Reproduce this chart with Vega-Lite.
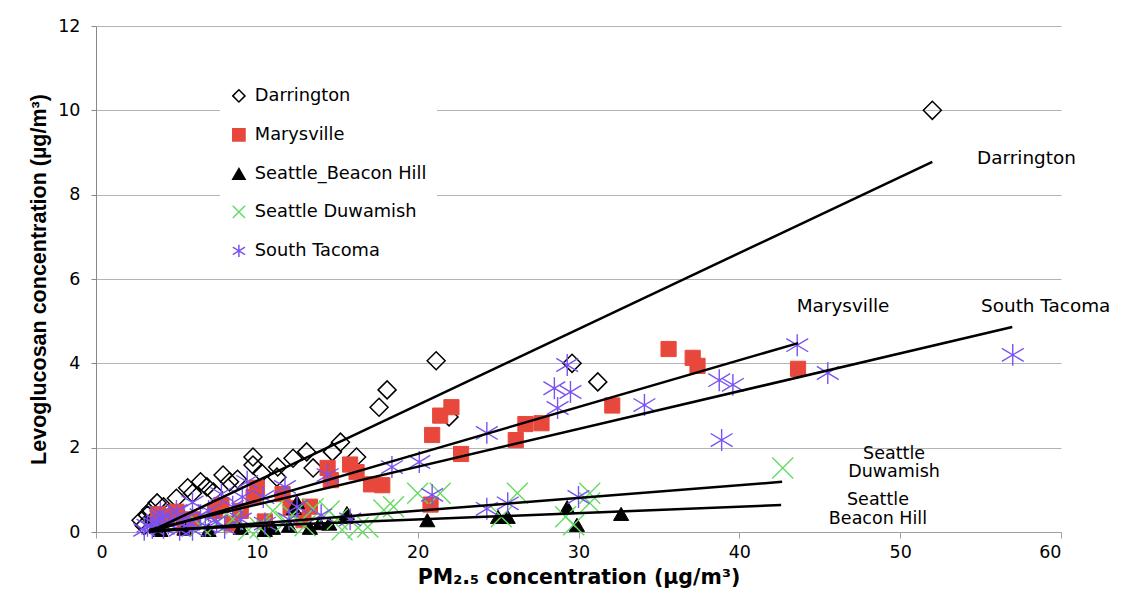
{
  "$schema": "https://vega.github.io/schema/vega-lite/v6.json",
  "width": 965,
  "height": 506,
  "autosize": {"type": "none"},
  "padding": {"left": 96, "top": 26, "right": 74, "bottom": 67},
  "background": "white",
  "config": {
    "view": {"stroke": null},
    "font": "DejaVu Sans"
  },
  "datasets": {
    "pts": [
      {"series": "Darrington", "pm": 52.0, "lev": 10.0},
      {"series": "Darrington", "pm": 21.15, "lev": 4.06},
      {"series": "Darrington", "pm": 29.6, "lev": 4.0},
      {"series": "Darrington", "pm": 31.2, "lev": 3.56},
      {"series": "Darrington", "pm": 18.1, "lev": 3.37},
      {"series": "Darrington", "pm": 17.6, "lev": 2.96},
      {"series": "Darrington", "pm": 21.95, "lev": 2.73},
      {"series": "Darrington", "pm": 15.2, "lev": 2.13},
      {"series": "Darrington", "pm": 14.7, "lev": 1.9},
      {"series": "Darrington", "pm": 16.2, "lev": 1.78},
      {"series": "Darrington", "pm": 13.1, "lev": 1.9},
      {"series": "Darrington", "pm": 12.25, "lev": 1.75},
      {"series": "Darrington", "pm": 11.3, "lev": 1.54},
      {"series": "Darrington", "pm": 9.76, "lev": 1.78},
      {"series": "Darrington", "pm": 9.76, "lev": 1.59},
      {"series": "Darrington", "pm": 7.9, "lev": 1.35},
      {"series": "Darrington", "pm": 8.3, "lev": 1.19},
      {"series": "Darrington", "pm": 6.5, "lev": 1.19},
      {"series": "Darrington", "pm": 6.0, "lev": 0.92},
      {"series": "Darrington", "pm": 5.7, "lev": 1.05},
      {"series": "Darrington", "pm": 3.8, "lev": 0.69},
      {"series": "Darrington", "pm": 3.4, "lev": 0.52},
      {"series": "Darrington", "pm": 2.8, "lev": 0.28},
      {"series": "Darrington", "pm": 6.9, "lev": 1.07},
      {"series": "Darrington", "pm": 11.25, "lev": 1.3},
      {"series": "Darrington", "pm": 13.5, "lev": 1.52},
      {"series": "Darrington", "pm": 4.2, "lev": 0.6},
      {"series": "Darrington", "pm": 3.2, "lev": 0.4},
      {"series": "Darrington", "pm": 5.0, "lev": 0.8},
      {"series": "Darrington", "pm": 7.3, "lev": 0.95},
      {"series": "Darrington", "pm": 8.8, "lev": 1.25},
      {"series": "Darrington", "pm": 10.3, "lev": 1.4},
      {"series": "Darrington", "pm": 3.0, "lev": 0.15},
      {"series": "Darrington", "pm": 3.6, "lev": 0.3},
      {"series": "Darrington", "pm": 4.5, "lev": 0.45},
      {"series": "Marysville", "pm": 35.6, "lev": 4.34},
      {"series": "Marysville", "pm": 37.1, "lev": 4.13},
      {"series": "Marysville", "pm": 37.4, "lev": 3.94},
      {"series": "Marysville", "pm": 43.65, "lev": 3.87},
      {"series": "Marysville", "pm": 32.1, "lev": 3.0},
      {"series": "Marysville", "pm": 22.1, "lev": 2.96},
      {"series": "Marysville", "pm": 21.4, "lev": 2.76},
      {"series": "Marysville", "pm": 20.9, "lev": 2.3},
      {"series": "Marysville", "pm": 22.7, "lev": 1.85},
      {"series": "Marysville", "pm": 26.1, "lev": 2.18},
      {"series": "Marysville", "pm": 26.7, "lev": 2.56},
      {"series": "Marysville", "pm": 27.7, "lev": 2.58},
      {"series": "Marysville", "pm": 20.8, "lev": 0.65},
      {"series": "Marysville", "pm": 17.8, "lev": 1.11},
      {"series": "Marysville", "pm": 17.1, "lev": 1.13},
      {"series": "Marysville", "pm": 16.2, "lev": 1.42},
      {"series": "Marysville", "pm": 15.8, "lev": 1.6},
      {"series": "Marysville", "pm": 14.4, "lev": 1.52},
      {"series": "Marysville", "pm": 14.6, "lev": 1.23},
      {"series": "Marysville", "pm": 13.3, "lev": 0.6},
      {"series": "Marysville", "pm": 12.1, "lev": 0.57},
      {"series": "Marysville", "pm": 11.6, "lev": 0.9},
      {"series": "Marysville", "pm": 10.0, "lev": 1.05},
      {"series": "Marysville", "pm": 9.8, "lev": 0.83},
      {"series": "Marysville", "pm": 7.8, "lev": 0.64},
      {"series": "Marysville", "pm": 7.4, "lev": 0.5},
      {"series": "Marysville", "pm": 5.0, "lev": 0.48},
      {"series": "Marysville", "pm": 3.85, "lev": 0.42},
      {"series": "Marysville", "pm": 4.4, "lev": 0.36},
      {"series": "Marysville", "pm": 12.9, "lev": 0.28},
      {"series": "Marysville", "pm": 6.0, "lev": 0.3},
      {"series": "Marysville", "pm": 8.5, "lev": 0.2},
      {"series": "Marysville", "pm": 10.5, "lev": 0.25},
      {"series": "Marysville", "pm": 5.5, "lev": 0.15},
      {"series": "Marysville", "pm": 9.0, "lev": 0.5},
      {"series": "Seattle_Beacon Hill", "pm": 32.65, "lev": 0.43},
      {"series": "Seattle_Beacon Hill", "pm": 29.3, "lev": 0.59},
      {"series": "Seattle_Beacon Hill", "pm": 29.9, "lev": 0.17},
      {"series": "Seattle_Beacon Hill", "pm": 25.6, "lev": 0.36},
      {"series": "Seattle_Beacon Hill", "pm": 25.0, "lev": 0.36},
      {"series": "Seattle_Beacon Hill", "pm": 20.6, "lev": 0.28},
      {"series": "Seattle_Beacon Hill", "pm": 15.5, "lev": 0.36},
      {"series": "Seattle_Beacon Hill", "pm": 15.6, "lev": 0.45},
      {"series": "Seattle_Beacon Hill", "pm": 12.5, "lev": 0.71},
      {"series": "Seattle_Beacon Hill", "pm": 12.3, "lev": 0.57},
      {"series": "Seattle_Beacon Hill", "pm": 13.9, "lev": 0.21},
      {"series": "Seattle_Beacon Hill", "pm": 13.3, "lev": 0.1},
      {"series": "Seattle_Beacon Hill", "pm": 10.5, "lev": 0.05},
      {"series": "Seattle_Beacon Hill", "pm": 12.0, "lev": 0.15},
      {"series": "Seattle_Beacon Hill", "pm": 9.0, "lev": 0.1},
      {"series": "Seattle_Beacon Hill", "pm": 7.0, "lev": 0.05},
      {"series": "Seattle_Beacon Hill", "pm": 5.5, "lev": 0.08},
      {"series": "Seattle_Beacon Hill", "pm": 4.0, "lev": 0.05},
      {"series": "Seattle_Beacon Hill", "pm": 14.5, "lev": 0.2},
      {"series": "Seattle_Beacon Hill", "pm": 11.0, "lev": 0.1},
      {"series": "Seattle Duwamish", "pm": 42.7, "lev": 1.52},
      {"series": "Seattle Duwamish", "pm": 30.7, "lev": 0.92},
      {"series": "Seattle Duwamish", "pm": 30.7, "lev": 0.69},
      {"series": "Seattle Duwamish", "pm": 29.2, "lev": 0.36},
      {"series": "Seattle Duwamish", "pm": 29.7, "lev": 0.17},
      {"series": "Seattle Duwamish", "pm": 26.2, "lev": 0.92},
      {"series": "Seattle Duwamish", "pm": 25.2, "lev": 0.36},
      {"series": "Seattle Duwamish", "pm": 21.4, "lev": 0.92},
      {"series": "Seattle Duwamish", "pm": 20.0, "lev": 0.92},
      {"series": "Seattle Duwamish", "pm": 18.5, "lev": 0.6},
      {"series": "Seattle Duwamish", "pm": 17.9, "lev": 0.52},
      {"series": "Seattle Duwamish", "pm": 16.3, "lev": 0.1},
      {"series": "Seattle Duwamish", "pm": 15.3, "lev": 0.05},
      {"series": "Seattle Duwamish", "pm": 16.9, "lev": 0.12},
      {"series": "Seattle Duwamish", "pm": 14.5, "lev": 0.5},
      {"series": "Seattle Duwamish", "pm": 13.5, "lev": 0.55},
      {"series": "Seattle Duwamish", "pm": 12.2, "lev": 0.4},
      {"series": "Seattle Duwamish", "pm": 11.8, "lev": 0.25},
      {"series": "Seattle Duwamish", "pm": 10.2, "lev": 0.1},
      {"series": "Seattle Duwamish", "pm": 9.5, "lev": 0.05},
      {"series": "Seattle Duwamish", "pm": 8.5, "lev": 0.3},
      {"series": "Seattle Duwamish", "pm": 7.5, "lev": 0.2},
      {"series": "Seattle Duwamish", "pm": 6.5, "lev": 0.15},
      {"series": "Seattle Duwamish", "pm": 11.0, "lev": 0.5},
      {"series": "Seattle Duwamish", "pm": 15.0, "lev": 0.3},
      {"series": "Seattle Duwamish", "pm": 13.0, "lev": 0.15},
      {"series": "South Tacoma", "pm": 57.0, "lev": 4.2},
      {"series": "South Tacoma", "pm": 43.6, "lev": 4.43},
      {"series": "South Tacoma", "pm": 45.5, "lev": 3.77},
      {"series": "South Tacoma", "pm": 38.75, "lev": 3.6},
      {"series": "South Tacoma", "pm": 39.6, "lev": 3.49},
      {"series": "South Tacoma", "pm": 38.9, "lev": 2.18},
      {"series": "South Tacoma", "pm": 34.1, "lev": 3.01},
      {"series": "South Tacoma", "pm": 29.3, "lev": 3.96},
      {"series": "South Tacoma", "pm": 28.5, "lev": 3.41},
      {"series": "South Tacoma", "pm": 29.5, "lev": 3.32},
      {"series": "South Tacoma", "pm": 28.7, "lev": 2.94},
      {"series": "South Tacoma", "pm": 24.3, "lev": 2.35},
      {"series": "South Tacoma", "pm": 18.4, "lev": 1.54},
      {"series": "South Tacoma", "pm": 20.1, "lev": 1.66},
      {"series": "South Tacoma", "pm": 20.9, "lev": 0.88},
      {"series": "South Tacoma", "pm": 30.0, "lev": 0.83},
      {"series": "South Tacoma", "pm": 25.6, "lev": 0.68},
      {"series": "South Tacoma", "pm": 24.3, "lev": 0.55},
      {"series": "South Tacoma", "pm": 14.4, "lev": 1.35},
      {"series": "South Tacoma", "pm": 11.75, "lev": 1.07},
      {"series": "South Tacoma", "pm": 9.4, "lev": 1.19},
      {"series": "South Tacoma", "pm": 9.1, "lev": 0.83},
      {"series": "South Tacoma", "pm": 10.4, "lev": 0.83},
      {"series": "South Tacoma", "pm": 12.5, "lev": 0.6},
      {"series": "South Tacoma", "pm": 8.5, "lev": 0.6},
      {"series": "South Tacoma", "pm": 7.8, "lev": 0.9},
      {"series": "South Tacoma", "pm": 7.0, "lev": 0.5},
      {"series": "South Tacoma", "pm": 6.5, "lev": 0.4},
      {"series": "South Tacoma", "pm": 6.0, "lev": 0.7},
      {"series": "South Tacoma", "pm": 5.5, "lev": 0.3},
      {"series": "South Tacoma", "pm": 5.0, "lev": 0.5},
      {"series": "South Tacoma", "pm": 4.5, "lev": 0.2},
      {"series": "South Tacoma", "pm": 4.0, "lev": 0.35},
      {"series": "South Tacoma", "pm": 3.5, "lev": 0.1},
      {"series": "South Tacoma", "pm": 3.0, "lev": 0.05},
      {"series": "South Tacoma", "pm": 8.0, "lev": 0.1},
      {"series": "South Tacoma", "pm": 10.5, "lev": 0.2},
      {"series": "South Tacoma", "pm": 12.0, "lev": 0.3},
      {"series": "South Tacoma", "pm": 14.0, "lev": 0.4},
      {"series": "South Tacoma", "pm": 6.0, "lev": 0.05},
      {"series": "South Tacoma", "pm": 9.0, "lev": 0.3},
      {"series": "South Tacoma", "pm": 3.8, "lev": 0.25},
      {"series": "South Tacoma", "pm": 15.8, "lev": 0.3},
      {"series": "South Tacoma", "pm": 3.2, "lev": 0.15},
      {"series": "South Tacoma", "pm": 4.2, "lev": 0.1},
      {"series": "South Tacoma", "pm": 5.2, "lev": 0.05},
      {"series": "South Tacoma", "pm": 4.8, "lev": 0.3},
      {"series": "South Tacoma", "pm": 3.6, "lev": 0.2},
      {"series": "South Tacoma", "pm": 5.8, "lev": 0.2},
      {"series": "South Tacoma", "pm": 6.8, "lev": 0.15},
      {"series": "South Tacoma", "pm": 7.5, "lev": 0.25},
      {"series": "South Tacoma", "pm": 4.0, "lev": 0.45}
    ],
    "fits": [
      {"fit": "Darrington", "pm": 3.3, "lev": 0.0},
      {"fit": "Darrington", "pm": 52.0, "lev": 8.78},
      {"fit": "Marysville", "pm": 3.3, "lev": 0.0},
      {"fit": "Marysville", "pm": 43.66, "lev": 4.48},
      {"fit": "South Tacoma", "pm": 3.3, "lev": 0.05},
      {"fit": "South Tacoma", "pm": 56.97, "lev": 4.86},
      {"fit": "Seattle Duwamish", "pm": 3.3, "lev": 0.0},
      {"fit": "Seattle Duwamish", "pm": 42.66, "lev": 1.19},
      {"fit": "Seattle_Beacon Hill", "pm": 3.3, "lev": 0.04},
      {"fit": "Seattle_Beacon Hill", "pm": 42.6, "lev": 0.64}
    ],
    "labelsLeft": [
      {"pm": 54.78, "lev": 8.87, "label": "Darrington"},
      {"pm": 55.03, "lev": 5.36, "label": "South Tacoma"}
    ],
    "labelsMid": [
      {"pm": 46.45, "lev": 5.36, "label": "Marysville"}
    ],
    "labelsTwo": [
      {"pm": 49.62, "lev": 1.85, "label": "Seattle\nDuwamish"},
      {"pm": 48.62, "lev": 0.75, "label": "Seattle\nBeacon Hill"}
    ]
  },
  "layer": [
    {
      "data": {"name": "pts"},
      "encoding": {
        "x": {
          "field": "pm", "type": "quantitative",
          "scale": {"domain": [0, 60], "nice": false, "zero": true},
          "axis": {
            "values": [0, 10, 20, 30, 40, 50, 60],
            "grid": false,
            "domainColor": "#a0a0a0",
            "tickColor": "#a0a0a0",
            "tickSize": 6,
            "labelFont": "DejaVu Sans",
            "labelFontSize": 17.5,
            "labelColor": "#000000",
            "labelPadding": 5,
            "title": "PM₂.₅ concentration (µg/m³)",
            "titleFont": "DejaVu Sans",
            "titleFontSize": 20.5,
            "titleFontWeight": "bold",
            "titleColor": "#000000",
            "titlePadding": 7
          }
        },
        "y": {
          "field": "lev", "type": "quantitative",
          "scale": {"domain": [0, 12], "nice": false},
          "axis": {
            "values": [0, 2, 4, 6, 8, 10, 12],
            "grid": true,
            "gridColor": "#b3b3b3",
            "domainColor": "#888888",
            "tickColor": "#888888",
            "tickSize": 5,
            "labelFont": "DejaVu Sans",
            "labelFontSize": 17.5,
            "labelColor": "#000000",
            "labelPadding": 11,
            "title": "Levoglucosan concentration (µg/m³)",
            "titleFont": "Liberation Sans",
            "titleFontSize": 21.5,
            "titleFontWeight": "bold",
            "titleColor": "#000000",
            "titlePadding": 7
          }
        },
        "shape": {
          "field": "series", "type": "nominal",
          "scale": {
            "domain": ["Darrington", "Marysville", "Seattle_Beacon Hill", "Seattle Duwamish", "South Tacoma"],
            "range": ["diamond", "square", "triangle-up", "M-1,-1L1,1M-1,1L1,-1", "M0,-1L0,1M-1,-0.6L1,0.6M-1,0.6L1,-0.6"]
          },
          "legend": {
            "title": null,
            "orient": "none",
            "legendX": 124,
            "legendY": 51,
            "padding": 10,
            "fillColor": "white",
            "labelFont": "DejaVu Sans",
            "labelFontSize": 17.8,
            "labelColor": "#000000",
            "labelLimit": 400,
            "labelOffset": 7,
            "rowPadding": 19,
            "symbolSize": 150,
            "symbolStrokeWidth": 1.5
          }
        },
        "fill": {
          "field": "series", "type": "nominal",
          "scale": {
            "domain": ["Darrington", "Marysville", "Seattle_Beacon Hill", "Seattle Duwamish", "South Tacoma"],
            "range": ["transparent", "#e8483b", "#000000", "transparent", "transparent"]
          }
        },
        "stroke": {
          "field": "series", "type": "nominal",
          "scale": {
            "domain": ["Darrington", "Marysville", "Seattle_Beacon Hill", "Seattle Duwamish", "South Tacoma"],
            "range": ["#000000", "#e8483b", "#000000", "#62dc62", "#7a52f2"]
          }
        }
      },
      "layer": [
        {
          "transform": [{"filter": "datum.series === 'Darrington'"}],
          "mark": {"type": "point", "opacity": 1, "strokeWidth": 1.5, "size": 324}
        },
        {
          "transform": [{"filter": "datum.series === 'Marysville'"}],
          "mark": {"type": "point", "opacity": 1, "strokeWidth": 1, "size": 230}
        },
        {
          "transform": [{"filter": "datum.series === 'Seattle_Beacon Hill'"}],
          "mark": {"type": "point", "opacity": 1, "strokeWidth": 1, "size": 230}
        },
        {
          "transform": [{"filter": "datum.series === 'Seattle Duwamish'"}],
          "mark": {"type": "point", "opacity": 1, "strokeWidth": 1.4, "size": 440}
        },
        {
          "transform": [{"filter": "datum.series === 'South Tacoma'"}],
          "mark": {"type": "point", "opacity": 1, "strokeWidth": 1.4, "size": 480}
        }
      ]
    },
    {
      "data": {"name": "fits"},
      "mark": {"type": "line", "color": "#000000", "strokeWidth": 2.5},
      "encoding": {
        "x": {"field": "pm", "type": "quantitative"},
        "y": {"field": "lev", "type": "quantitative"},
        "detail": {"field": "fit", "type": "nominal"}
      }
    },
    {
      "data": {"name": "labelsLeft"},
      "mark": {"type": "text", "align": "left", "baseline": "middle", "fontSize": 18.4, "color": "#000000", "font": "DejaVu Sans"},
      "encoding": {
        "x": {"field": "pm", "type": "quantitative"},
        "y": {"field": "lev", "type": "quantitative"},
        "text": {"field": "label"}
      }
    },
    {
      "data": {"name": "labelsMid"},
      "mark": {"type": "text", "align": "center", "baseline": "middle", "fontSize": 18.4, "color": "#000000", "font": "DejaVu Sans"},
      "encoding": {
        "x": {"field": "pm", "type": "quantitative"},
        "y": {"field": "lev", "type": "quantitative"},
        "text": {"field": "label"}
      }
    },
    {
      "data": {"name": "labelsTwo"},
      "mark": {"type": "text", "align": "center", "baseline": "middle", "fontSize": 17.5, "lineHeight": 18.5, "lineBreak": "\n", "color": "#000000", "font": "DejaVu Sans"},
      "encoding": {
        "x": {"field": "pm", "type": "quantitative"},
        "y": {"field": "lev", "type": "quantitative"},
        "text": {"field": "label"}
      }
    }
  ]
}
